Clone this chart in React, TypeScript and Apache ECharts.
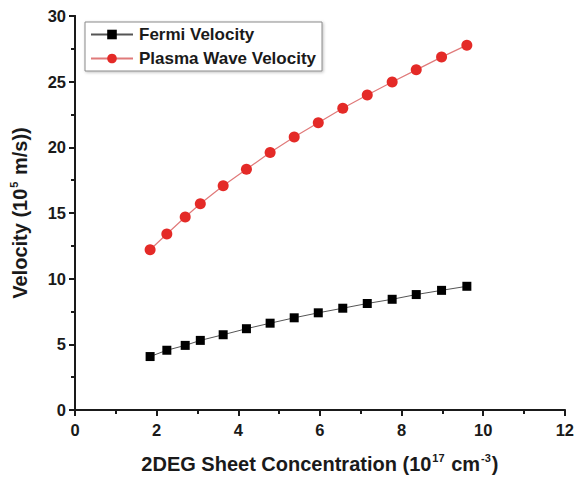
import React, { useEffect, useRef } from "react";
import * as echarts from "echarts";

const concentration = [1.84, 2.25, 2.7, 3.07, 3.63, 4.2, 4.78, 5.37, 5.96, 6.56, 7.16, 7.77, 8.36, 8.98, 9.6];
const fermiVelocity = [4.07, 4.55, 4.92, 5.3, 5.73, 6.19, 6.61, 7.02, 7.4, 7.75, 8.11, 8.43, 8.79, 9.11, 9.42];
const plasmaVelocity = [12.2, 13.4, 14.7, 15.7, 17.07, 18.33, 19.6, 20.78, 21.87, 22.98, 23.99, 24.98, 25.9, 26.87, 27.78];
const seriesNames = ["Fermi Velocity", "Plasma Wave Velocity"];

const FONT = "'Liberation Sans', Arial, sans-serif";
const INK = "#1a1a1a";

export default function App() {
  const ref = useRef<HTMLDivElement>(null);
  useEffect(() => {
    if (!ref.current) return;
    const chart = echarts.init(ref.current, null, { renderer: "svg" });
    const axisLine = { show: true, lineStyle: { color: INK, width: 2 } };
    const labelStyle = { color: INK, fontFamily: FONT, fontWeight: "bold" as const, fontSize: 16.5 };
    const richName = {
      t: { fontFamily: FONT, fontWeight: "bold", fontSize: 20, color: INK, lineHeight: 24 },
      sup: { fontFamily: FONT, fontWeight: "bold", fontSize: 11, color: INK, verticalAlign: "top", lineHeight: 24, padding: [0, 1, 9, 1] },
    };
    chart.setOption({
      animation: false,
      backgroundColor: "#ffffff",
      grid: { left: 73.5, right: 12, top: 16, bottom: 66, containLabel: false },
      legend: {
        data: seriesNames,
        orient: "vertical",
        left: 85,
        top: 22,
        itemWidth: 42,
        itemHeight: 12,
        itemGap: 7,
        padding: [4, 6, 4, 5],
        borderColor: "#8a8a8a",
        borderWidth: 1,
        backgroundColor: "#fff",
        shadowColor: "rgba(0,0,0,0.25)",
        shadowBlur: 3,
        shadowOffsetX: 1,
        shadowOffsetY: 1,
        textStyle: { color: INK, fontFamily: FONT, fontWeight: "bold", fontSize: 17, padding: [0, 0, 0, 1] },
      },
      xAxis: [
        {
          type: "value",
          min: 0,
          max: 12,
          interval: 2,
          position: "bottom",
          axisLine,
          axisTick: { show: true, inside: false, length: 6, lineStyle: { color: INK, width: 2 } },
          minorTick: { show: true, splitNumber: 2, length: 4, lineStyle: { color: INK, width: 2 } },
          splitLine: { show: false },
          axisLabel: { ...labelStyle, margin: 11 },
          name: "{t|2DEG Sheet Concentration (10}{sup|17}{t| cm}{sup|-3}{t|)}",
          nameLocation: "middle",
          nameGap: 42,
          nameTextStyle: { rich: richName },
        },
        {
          type: "value",
          min: 0,
          max: 12,
          interval: 2,
          position: "top",
          axisLine,
          axisTick: { show: true, inside: true, length: 6, lineStyle: { color: INK, width: 2 } },
          minorTick: { show: false },
          axisLabel: { show: false },
          splitLine: { show: false },
        },
      ],
      yAxis: [
        {
          type: "value",
          min: 0,
          max: 30,
          interval: 5,
          position: "left",
          axisLine,
          axisTick: { show: true, inside: false, length: 6, lineStyle: { color: INK, width: 2 } },
          minorTick: { show: true, splitNumber: 2, length: 4, lineStyle: { color: INK, width: 2 } },
          splitLine: { show: false },
          axisLabel: { ...labelStyle, margin: 9 },
          name: "{t|Velocity (10}{sup|5}{t| m/s))}",
          nameLocation: "middle",
          nameGap: 43,
          nameTextStyle: { rich: richName },
        },
        {
          type: "value",
          min: 0,
          max: 30,
          interval: 5,
          position: "right",
          axisLine,
          axisTick: { show: true, inside: true, length: 6, lineStyle: { color: INK, width: 2 } },
          minorTick: { show: true, splitNumber: 2, length: 4, lineStyle: { color: INK, width: 2 } },
          axisLabel: { show: false },
          splitLine: { show: false },
        },
      ],
      series: [
        {
          name: seriesNames[0],
          type: "line",
          xAxisIndex: 0,
          yAxisIndex: 0,
          data: concentration.map((x, i) => [x, fermiVelocity[i]]),
          symbol: "rect",
          symbolSize: 9,
          lineStyle: { color: "#555", width: 1 },
          itemStyle: { color: "#000" },
        },
        {
          name: seriesNames[1],
          type: "line",
          xAxisIndex: 0,
          yAxisIndex: 0,
          data: concentration.map((x, i) => [x, plasmaVelocity[i]]),
          symbol: "circle",
          symbolSize: 11,
          lineStyle: { color: "#e07a7a", width: 1.2 },
          itemStyle: { color: "#e42a27" },
        },
      ],
    });
    return () => chart.dispose();
  }, []);
  return <div ref={ref} style={{ position: "fixed", left: 0, top: 0, width: 577, height: 479 }} />;
}
